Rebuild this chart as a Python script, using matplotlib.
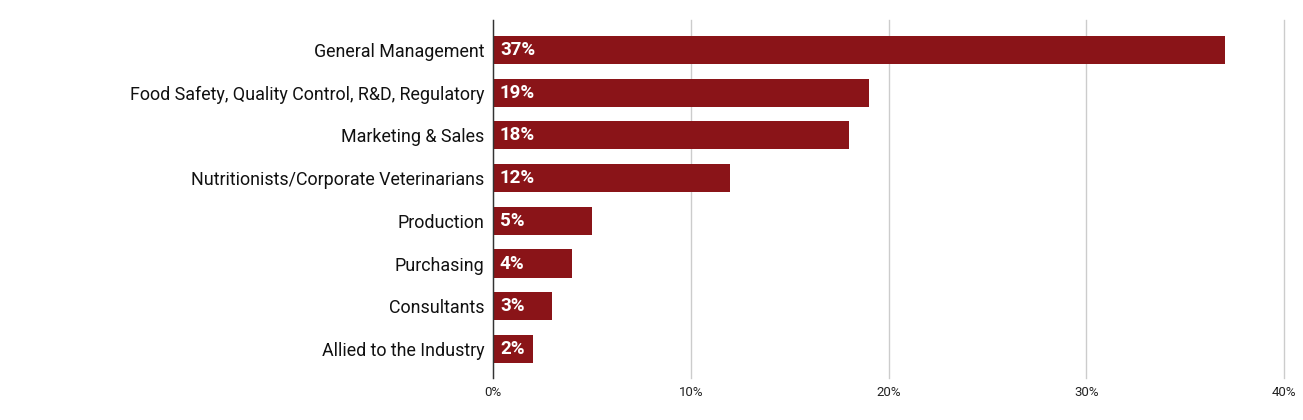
import matplotlib.pyplot as plt
import matplotlib.ticker as mtick

categories = ["General Management", "Food Safety, Quality Control, R&D, Regulatory",
              "Marketing & Sales", "Nutritionists/Corporate Veterinarians",
              "Production", "Purchasing", "Consultants", "Allied to the Industry"]
values = [37, 19, 18, 12, 5, 4, 3, 2]
xticks = [0, 10, 20, 30, 40]

bar_color = "#8a1418"

plt.rcParams['font.family'] = ['Roboto', 'DejaVu Sans']

fig = plt.figure(figsize=(13.03, 4.2), dpi=100)
ax = fig.add_axes([493 / 1303, 42 / 420, (1284 - 493) / 1303, (378 - 20) / 420])

pos = list(range(len(categories)))
ax.barh(pos, values, height=0.66, color=bar_color, zorder=3)
for p, v in zip(pos, values):
    ax.text(0.35, p, "%d%%" % v, color="white", fontsize=13.5, fontweight="bold",
            va="center", ha="left", zorder=4)

ax.set_xlim(0, 40)
ax.set_ylim(7.68, -0.7)
ax.set_xticks(xticks)
ax.xaxis.set_major_formatter(mtick.FuncFormatter(lambda x, _: "%d%%" % x))
ax.set_yticks(pos)
ax.set_yticklabels(categories, fontsize=12.9, color="#111111")
ax.tick_params(axis="y", length=0, pad=6)
ax.tick_params(axis="x", length=0, pad=6, labelsize=9.5, labelcolor="#222222")
ax.grid(axis="x", color="#cccccc", linewidth=1, zorder=0)
for gl in ax.get_xgridlines():
    gl.set_clip_on(False)
for s in ["top", "right", "bottom"]:
    ax.spines[s].set_visible(False)
ax.spines["left"].set_color("#333333")
ax.spines["left"].set_linewidth(1)
ax.spines["left"].set_zorder(5)

fig.savefig("out.png", dpi=100)
